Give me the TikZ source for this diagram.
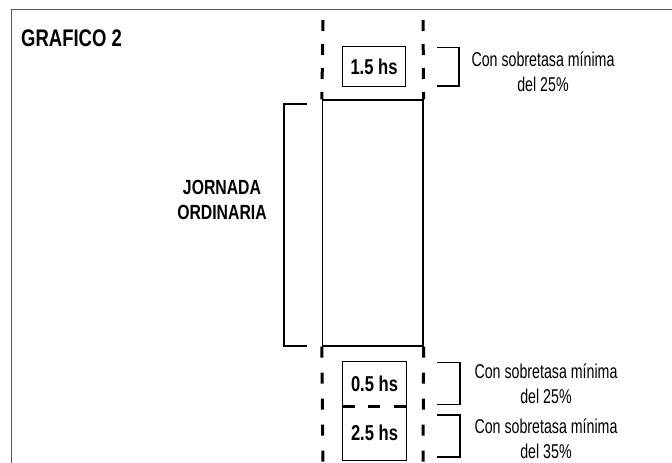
\documentclass[tikz,border=0pt]{standalone}
\usepackage{fontspec}
\setmainfont{Liberation Sans}
\newfontfamily\nreg[FakeStretch=0.71]{Liberation Sans}
\newfontfamily\nbold[FakeStretch=0.77]{Liberation Sans}
\begin{document}
\begin{tikzpicture}[x=1pt,y=-1pt,
  frameline/.style={line width=1.8pt, draw=black!65},
  solidline/.style={line width=1.3pt},
  dashv/.style={line width=3pt},
  lbl/.style={font=\nreg\fontsize{20}{25}\selectfont, align=center, inner sep=0pt},
  blbl/.style={font=\nbold\bfseries\fontsize{20.5}{25}\selectfont, align=center, inner sep=0pt},
  hbox/.style={draw, line width=1.3pt, minimum width=63pt, inner sep=0pt, font=\nbold\bfseries\fontsize{21.5}{24}\selectfont},
  lbox/.style={minimum width=63pt, inner sep=0pt, font=\nbold\bfseries\fontsize{21.5}{24}\selectfont}]
\useasboundingbox (0,0) rectangle (672,463);
% frame
\coordinate (fTL) at (11.5,9.5);
\coordinate (fTR) at (672,9.5);
\coordinate (fBL) at (11.5,463);
\draw[frameline] (fBL) -- (fTL) -- (fTR);
% title
\node[font=\nbold\bfseries\fontsize{24}{28}\selectfont, anchor=base west, inner sep=0pt] (title) at (21,46) {GRAFICO 2};
% main rectangle
\node[draw, solidline, minimum width=100.5pt, minimum height=246pt, inner sep=0pt] (main) at (372.75,223) {};
% top box
\node[hbox, minimum height=40pt] (b1) at (374,66.5) {1.5 hs};
% lower boxes
\node[lbox, minimum height=44pt] (b2) at (374.5,384) {0.5 hs};
\node[lbox, minimum height=54pt] (b3) at (374.5,433) {2.5 hs};
\draw[solidline] (b2.south west) |- (b2.north east) -- (b2.south east);
\draw[solidline] (b3.north west) |- (b3.south east) -- (b3.north east);
\draw[line width=2.6pt, dash pattern=on 12pt off 13.5pt] (b2.south west) -- (b2.south east);
% dashed verticals
\coordinate (tL) at (323,20);
\coordinate (tR) at (423,20);
\coordinate (bL) at (323,463);
\coordinate (bR) at (423,463);
\draw[dashv, dash pattern=on 11pt off 13pt] (tL) -- (main.north west);
\draw[dashv, dash pattern=on 11pt off 13pt] (tR) -- (main.north east);
\draw[dashv, dash pattern=on 11pt off 15pt] (main.south west) -- (bL);
\draw[dashv, dash pattern=on 11pt off 15pt] (main.south east) -- (bR);
% left bracket
\coordinate (lb1) at (306.5,104);
\coordinate (lb2) at (284,104);
\coordinate (lb3) at (284,346);
\coordinate (lb4) at (306.5,346);
\draw[solidline] (lb1) -- (lb2) -- (lb3) -- (lb4);
\node[blbl] (jor) at (222,199.5) {JORNADA\\ORDINARIA};
% right brackets
\coordinate (r1a) at (437,47.5);
\coordinate (r1b) at (459,47.5);
\coordinate (r1c) at (459,86);
\coordinate (r1d) at (437,86);
\draw[solidline] (r1a) -- (r1b) -- (r1c) -- (r1d);
\coordinate (r2a) at (437,362.5);
\coordinate (r2b) at (460,362.5);
\coordinate (r2c) at (460,404.5);
\coordinate (r2d) at (437,404.5);
\draw[solidline] (r2a) -- (r2b) -- (r2c) -- (r2d);
\coordinate (r3a) at (437,415);
\coordinate (r3b) at (460,415);
\coordinate (r3c) at (460,457);
\coordinate (r3d) at (437,457);
\draw[solidline] (r3a) -- (r3b) -- (r3c) -- (r3d);
% right labels
\node[lbl] (t1) at (543,72) {Con sobretasa mínima\\del 25\%};
\node[lbl] (t2) at (546,384) {Con sobretasa mínima\\del 25\%};
\node[lbl] (t3) at (546,439) {Con sobretasa mínima\\del 35\%};
\end{tikzpicture}
\end{document}
